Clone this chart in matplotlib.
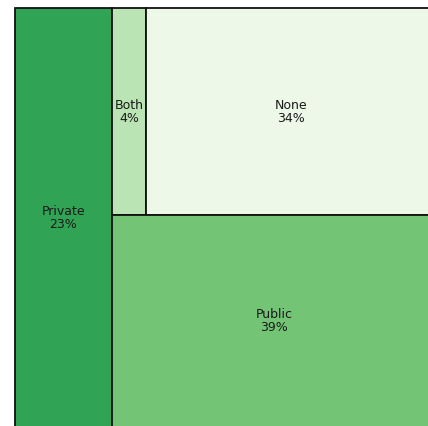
import matplotlib
matplotlib.use("Agg")
import matplotlib.pyplot as plt
from matplotlib.patches import Rectangle

# Datos
labels = ["Private", "Both", "None", "Public"]
values = [23, 4, 34, 39]
colors = ["#31a354", "#bae4b3", "#edf8e9", "#74c476"]

total = sum(values)

# Layout del treemap: Private columna completa, el resto se divide en
# fila superior (Both + None) y fila inferior (Public)
W, H = 100.0, 100.0
rects = []
w0 = W * values[0] / total
rects.append((0, 0, w0, H))
rest = total - values[0]
rw = W - w0
top = values[1] + values[2]
th = H * top / rest
x = w0
for v in values[1:3]:
    w = rw * v / top
    rects.append((x, 0, w, th))
    x += w
rects.append((w0, th, rw, H - th))

fig = plt.figure(figsize=(4.28, 4.26), dpi=100)
ax = fig.add_axes([15 / 428, 1 - 427.5 / 426, 421.7 / 428, 419.5 / 426])

for (rx, ry, rw_, rh), lab, val, col in zip(rects, labels, values, colors):
    ax.add_patch(Rectangle((rx, ry), rw_, rh, facecolor=col,
                           edgecolor="#111111", linewidth=1.3, clip_on=False))
    ax.text(rx + rw_ / 2, ry + rh / 2, f"{lab}\n{val}%", ha="center",
            va="center", fontsize=9, color="#1a1a1a", linespacing=1.0)

ax.set_xlim(0, W)
ax.set_ylim(H, 0)
ax.axis("off")

fig.savefig("out.png", dpi=100)
